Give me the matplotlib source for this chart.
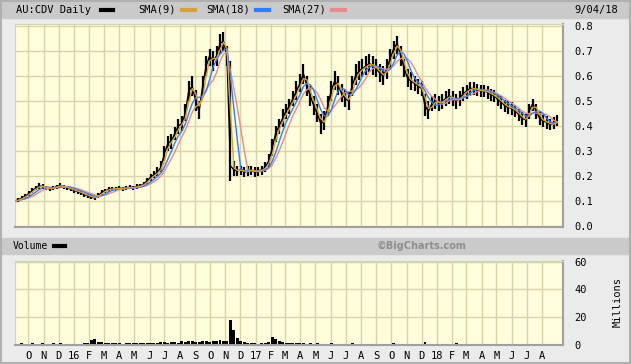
import numpy as np
import pandas as pd
import matplotlib
matplotlib.use("Agg")
import matplotlib.pyplot as plt
import matplotlib.dates as mdates
from matplotlib.patches import Rectangle
from matplotlib.lines import Line2D

''' DATA: weekly samples read off the AU:CDV daily chart, Fridays from 2015-09-04 '''
start_date = "2015-09-04"

close = [
	0.100, 0.105, 0.112, 0.120, 0.130, 0.142, 0.152, 0.160, 0.158, 0.152,
	0.148, 0.152, 0.158, 0.162, 0.158, 0.152, 0.148, 0.142, 0.138, 0.132,
	0.126, 0.120, 0.116, 0.112, 0.122, 0.135, 0.142, 0.146, 0.150, 0.148,
	0.152, 0.150, 0.152, 0.155, 0.153, 0.158, 0.160, 0.168, 0.180, 0.195,
	0.205, 0.215, 0.235, 0.290, 0.330, 0.340, 0.370, 0.400, 0.410, 0.450,
	0.540, 0.560, 0.500, 0.460, 0.560, 0.640, 0.680, 0.660, 0.680, 0.730,
	0.740, 0.680, 0.240, 0.225, 0.220, 0.225, 0.215, 0.220, 0.225, 0.215,
	0.220, 0.225, 0.235, 0.260, 0.310, 0.370, 0.400, 0.430, 0.460, 0.480,
	0.510, 0.540, 0.570, 0.610, 0.560, 0.520, 0.480, 0.450, 0.410, 0.420,
	0.480, 0.540, 0.580, 0.560, 0.530, 0.510, 0.500, 0.560, 0.600, 0.620,
	0.630, 0.640, 0.650, 0.640, 0.630, 0.610, 0.600, 0.630, 0.670, 0.710,
	0.730, 0.680, 0.630, 0.590, 0.580, 0.570, 0.560, 0.550, 0.480, 0.460,
	0.490, 0.500, 0.490, 0.500, 0.510, 0.520, 0.510, 0.500, 0.510, 0.530,
	0.540, 0.550, 0.550, 0.545, 0.540, 0.540, 0.535, 0.525, 0.520, 0.505,
	0.495, 0.480, 0.475, 0.470, 0.460, 0.445, 0.430, 0.425, 0.460, 0.490,
	0.460, 0.430, 0.420, 0.415, 0.405, 0.410, 0.420,
]

high = [
	0.108, 0.112, 0.120, 0.128, 0.140, 0.152, 0.162, 0.172, 0.168, 0.160,
	0.156, 0.160, 0.166, 0.172, 0.166, 0.160, 0.155, 0.150, 0.146, 0.140,
	0.133, 0.128, 0.123, 0.120, 0.132, 0.145, 0.150, 0.155, 0.158, 0.156,
	0.160, 0.158, 0.160, 0.163, 0.161, 0.167, 0.170, 0.178, 0.192, 0.208,
	0.220, 0.235, 0.260, 0.320, 0.360, 0.370, 0.395, 0.430, 0.440, 0.490,
	0.580, 0.600, 0.545, 0.500, 0.600, 0.680, 0.710, 0.700, 0.720, 0.770,
	0.775, 0.720, 0.660, 0.260, 0.240, 0.240, 0.235, 0.240, 0.240, 0.235,
	0.238, 0.240, 0.255, 0.290, 0.350, 0.400, 0.430, 0.470, 0.490, 0.510,
	0.540, 0.580, 0.610, 0.650, 0.600, 0.560, 0.520, 0.490, 0.450, 0.460,
	0.520, 0.580, 0.620, 0.600, 0.570, 0.545, 0.540, 0.600, 0.650, 0.660,
	0.670, 0.680, 0.690, 0.680, 0.670, 0.650, 0.640, 0.670, 0.710, 0.740,
	0.760, 0.720, 0.670, 0.630, 0.615, 0.600, 0.590, 0.580, 0.530, 0.500,
	0.520, 0.530, 0.520, 0.530, 0.540, 0.550, 0.540, 0.530, 0.540, 0.555,
	0.565, 0.575, 0.575, 0.570, 0.565, 0.565, 0.560, 0.550, 0.545, 0.530,
	0.520, 0.505, 0.500, 0.495, 0.485, 0.470, 0.455, 0.450, 0.490, 0.510,
	0.490, 0.455, 0.445, 0.440, 0.430, 0.435, 0.445,
]

low = [
	0.094, 0.098, 0.105, 0.112, 0.122, 0.133, 0.143, 0.150, 0.148, 0.143,
	0.140, 0.144, 0.150, 0.153, 0.150, 0.144, 0.140, 0.134, 0.130, 0.124,
	0.118, 0.112, 0.108, 0.104, 0.112, 0.126, 0.134, 0.138, 0.142, 0.140,
	0.144, 0.142, 0.144, 0.147, 0.145, 0.150, 0.152, 0.158, 0.168, 0.182,
	0.192, 0.200, 0.215, 0.260, 0.300, 0.310, 0.345, 0.370, 0.380, 0.420,
	0.500, 0.520, 0.460, 0.430, 0.520, 0.600, 0.640, 0.620, 0.640, 0.690,
	0.700, 0.640, 0.180, 0.200, 0.200, 0.205, 0.195, 0.200, 0.205, 0.195,
	0.200, 0.205, 0.215, 0.235, 0.280, 0.335, 0.370, 0.395, 0.430, 0.450,
	0.480, 0.505, 0.535, 0.570, 0.520, 0.480, 0.445, 0.415, 0.370, 0.385,
	0.440, 0.500, 0.545, 0.525, 0.495, 0.475, 0.465, 0.520, 0.565, 0.585,
	0.595, 0.605, 0.615, 0.605, 0.595, 0.575, 0.565, 0.590, 0.630, 0.670,
	0.690, 0.640, 0.595, 0.555, 0.545, 0.540, 0.530, 0.520, 0.440, 0.430,
	0.460, 0.470, 0.460, 0.470, 0.480, 0.490, 0.480, 0.470, 0.480, 0.500,
	0.510, 0.520, 0.525, 0.520, 0.515, 0.515, 0.510, 0.500, 0.495, 0.480,
	0.470, 0.455, 0.450, 0.445, 0.435, 0.420, 0.405, 0.395, 0.430, 0.460,
	0.430, 0.405, 0.395, 0.390, 0.385, 0.390, 0.400,
]

# millions of shares
volume = [
	0.6, 0.8, 1.5, 0.7, 0.9, 1.6, 0.8, 0.7, 1.2, 0.9,
	0.8, 1.5, 0.7, 1.8, 0.6, 0.5, 0.7, 0.6, 0.8, 0.9,
	1.2, 1.6, 3.5, 4.2, 2.5, 2.0, 1.5, 1.4, 1.2, 1.3,
	1.1, 1.0, 1.2, 1.4, 1.1, 1.2, 1.6, 1.5, 1.8, 1.4,
	1.6, 1.5, 2.0, 2.5, 1.8, 2.2, 2.0, 1.8, 2.6, 2.4,
	3.0, 2.6, 2.2, 2.0, 2.8, 3.0, 2.4, 2.6, 3.2, 3.8,
	3.0, 2.8, 18.0, 11.0, 5.0, 3.0, 2.5, 1.8, 1.5, 1.2,
	1.0, 1.2, 1.5, 2.5, 6.0, 4.0, 3.0, 2.2, 1.8, 1.6,
	1.4, 1.2, 1.3, 1.5, 1.0, 1.1, 0.9, 1.2, 1.0, 0.8,
	0.9, 1.3, 1.0, 0.8, 0.7, 0.8, 0.6, 1.4, 0.9, 0.8,
	0.9, 0.7, 0.8, 0.6, 0.7, 0.6, 0.8, 0.9, 1.0, 1.2,
	0.9, 0.7, 0.6, 0.5, 0.6, 0.5, 0.6, 0.8, 2.0, 1.0,
	0.7, 0.6, 0.5, 0.6, 0.5, 0.6, 0.8, 1.8, 0.7, 0.5,
	0.5, 0.4, 0.5, 0.4, 0.5, 0.4, 0.4, 0.5, 0.4, 0.5,
	0.4, 0.5, 0.4, 0.4, 0.5, 0.4, 0.5, 0.6, 0.7, 0.6,
	0.5, 0.4, 0.4, 0.5, 0.4, 0.4, 0.5,
]

sma_labels = ["SMA(9)", "SMA(18)", "SMA(27)"]
sma_weeks = [2, 4, 6]  # 9 / 18 / 27 trading days expressed in weekly samples
sma_colors = ["#d6a13e", "#2a7fff", "#e88a8f"]
price_ticks = [0.0, 0.1, 0.2, 0.3, 0.4, 0.5, 0.6, 0.7, 0.8]
vol_ticks = [0, 20, 40, 60]
month_letters = "JFMAMJJASOND"
first_month, last_month = "2015-10-01", "2018-08-01"

''' STYLE '''
W, H = 631, 364
BG = "#ebebeb"
HEAD = "#cacaca"
FACE = "#fffddc"
GRID = "#d6d4a8"
EDGE = "#a0a0a0"
MONO = "DejaVu Sans Mono"
FS = 7.5


def fx(px):
	return px / W


def fy(py):
	return 1 - py / H


def styleAxes(ax):
	ax.set_facecolor(FACE)
	ax.grid(True, color=GRID, lw=1.0)
	ax.set_axisbelow(True)
	ax.tick_params(length=0, labelsize=FS)
	ax.yaxis.tick_right()
	for side in ("top", "left"):
		ax.spines[side].set_color(GRID)
	for side in ("right", "bottom"):
		ax.spines[side].set_color(EDGE)
		ax.spines[side].set_linewidth(1.5)
	for lab in ax.get_yticklabels():
		lab.set_family(MONO)


def monthLabel(x, pos):
	d = mdates.num2date(x)
	if d.month == 1:
		return "%02d" % (d.year % 100)
	return month_letters[d.month - 1]


def main():
	dates = pd.date_range(start_date, periods=len(close), freq="7D")
	closes = pd.Series(close, index=dates)
	months = pd.date_range(first_month, last_month, freq="MS")

	fig = plt.figure(figsize=(W / 100, H / 100), dpi=100, facecolor=BG)

	# header bars and outer frame
	fig.add_artist(Rectangle((0, fy(18)), 1, 18 / H, transform=fig.transFigure,
		color=HEAD, zorder=0))
	fig.add_artist(Rectangle((0, fy(254)), 1, 16 / H, transform=fig.transFigure,
		color=HEAD, zorder=0))
	fig.add_artist(Rectangle((0.001, 0.002), 0.997, 0.995, transform=fig.transFigure,
		fill=False, ec="#b0b0b0", lw=1.5, zorder=5))

	ax = fig.add_axes([fx(15), fy(227), fx(548), 203 / H])
	axv = fig.add_axes([fx(15), fy(345), fx(548), 84 / H], sharex=ax)

	''' price panel '''
	ax.vlines(dates, low, high, color="black", lw=1.6, zorder=2)
	ax.plot(dates, close, color="black", lw=1.0, zorder=2)
	for n, col in reversed(list(zip(sma_weeks, sma_colors))):
		sma = closes.rolling(n, min_periods=1).mean()
		ax.plot(dates, sma.values, color=col, lw=1.0, zorder=3)
	ax.set_ylim(-0.004, 0.808)
	ax.set_yticks(price_ticks)
	ax.set_yticklabels(["%.1f" % t for t in price_ticks])
	ax.tick_params(axis="y", pad=8)
	ax.set_xticks(months)
	ax.set_xlim(pd.Timestamp("2015-09-04"), pd.Timestamp("2018-09-12"))
	plt.setp(ax.get_xticklabels(), visible=False)
	styleAxes(ax)

	''' volume panel '''
	axv.bar(dates, volume, width=6, color="black", zorder=2)
	axv.set_ylim(0, 60.5)
	axv.set_yticks(vol_ticks)
	axv.set_yticklabels([str(t) for t in vol_ticks])
	axv.tick_params(axis="y", pad=8)
	axv.tick_params(axis="x", pad=4)
	axv.xaxis.set_major_formatter(plt.FuncFormatter(monthLabel))
	styleAxes(axv)
	for lab in axv.get_xticklabels():
		lab.set_family(MONO)

	''' header texts and legend swatches '''
	ty = fy(10)
	fig.text(fx(16), ty, "AU:CDV Daily", family=MONO, size=FS, va="center")
	fig.add_artist(Line2D([fx(101), fx(113)], [ty, ty], color="black", lw=3))
	sma_x = [138, 206, 282]
	for lab, col, x0 in zip(sma_labels, sma_colors, sma_x):
		fig.text(fx(x0), ty, lab, family=MONO, size=FS, va="center")
		sw = x0 + len(lab) * 6.3 + 6
		fig.add_artist(Line2D([fx(sw), fx(sw + 13)], [ty, ty], color=col, lw=3))
	fig.text(fx(618), ty, "9/04/18", family=MONO, size=FS, va="center", ha="right")

	vy = fy(246)
	fig.text(fx(13), vy, "Volume", family=MONO, size=7, va="center")
	fig.add_artist(Line2D([fx(54), fx(65)], [vy, vy], color="black", lw=3))
	fig.text(fx(467), vy, "\u00a9BigCharts.com", family="DejaVu Sans", weight="bold",
		size=7, color="#8e8e8e", va="center", ha="right")
	fig.text(fx(618), fy(302), "Millions", family=MONO, size=FS, rotation=90,
		ha="center", va="center")

	fig.savefig("out.png", dpi=100, facecolor=BG)


if __name__ == '__main__':
	main()
